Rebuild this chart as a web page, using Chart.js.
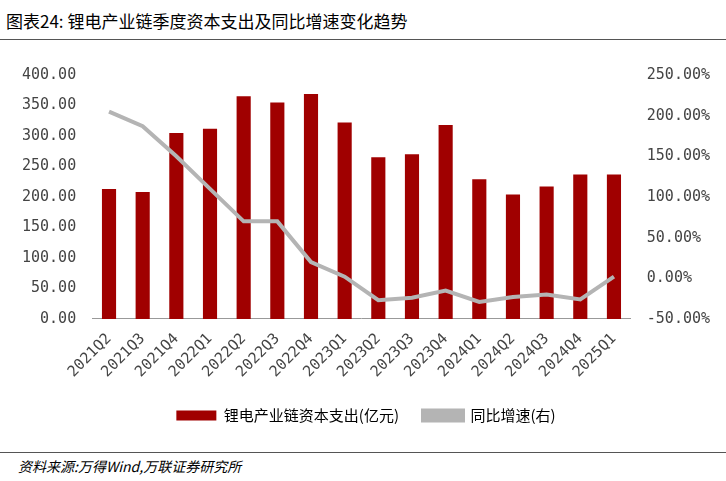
<!DOCTYPE html>
<html><head><meta charset="utf-8">
<script src="https://cdn.jsdelivr.net/npm/chart.js@4/dist/chart.umd.min.js"></script>
<style>
body{margin:0;width:726px;height:481px;background:#fff;font-family:"Noto Sans CJK SC";position:relative;overflow:hidden}
#title{position:absolute;left:6px;top:8px;font-size:17px;color:#000}
#tline{position:absolute;left:0;top:39px;width:726px;border-top:1.5px solid #555}
#bline{position:absolute;left:0;top:452px;width:726px;border-top:1px solid #555}
#src{position:absolute;left:18px;top:456px;font-size:14px;font-style:italic}
#wrap{position:absolute;left:0;top:58px;width:726px;height:375px}
</style></head><body>
<div id="title">图表24:&nbsp;锂电产业链季度资本支出及同比增速变化趋势</div>
<div id="tline"></div>
<div id="wrap"><canvas id="c"></canvas></div>
<div id="bline"></div>
<div id="src">资料来源:万得Wind,万联证券研究所</div>
<script>
const quarters = ["2021Q2","2021Q3","2021Q4","2022Q1","2022Q2","2022Q3","2022Q4","2023Q1","2023Q2","2023Q3","2023Q4","2024Q1","2024Q2","2024Q3","2024Q4","2025Q1"];
const capex = [213,208,305,312,365,355,369,322,265,270,318,229,204,217,237,237];
const yoy = [205,187,150,110,70,70,20,2,-27,-24,-15,-29,-23,-20,-26,2];

const tickFont = {family:"DejaVu Sans Mono", size:15};
new Chart(document.getElementById("c"), {
  data: {
    labels: quarters,
    datasets: [
      {type:"line", label:"同比增速(右)", data:yoy, yAxisID:"y1", borderColor:"#b4b4b4", backgroundColor:"#b4b4b4", borderWidth:4, pointRadius:0, tension:0, order:0},
      {type:"bar", label:"锂电产业链资本支出(亿元)", data:capex, yAxisID:"y", backgroundColor:"#a00000", barPercentage:0.42, categoryPercentage:1, order:1}
    ]
  },
  options: {
    responsive:true, maintainAspectRatio:false, animation:false,
    layout:{padding:{left:14,right:8,top:4}},
    plugins:{
      legend:{position:"bottom", reverse:true, labels:{font:{family:"Noto Sans CJK SC",size:15}, color:"#000", boxWidth:40, boxHeight:10, padding:24}},
      tooltip:{enabled:false}
    },
    scales:{
      x:{grid:{display:false}, border:{color:"#999"}, ticks:{font:tickFont, color:"#444", maxRotation:45, minRotation:45}},
      y:{min:0,max:400, ticks:{stepSize:50, font:tickFont, color:"#444", padding:8, callback:v=>v.toFixed(2)}, grid:{display:false}, border:{display:false}},
      y1:{position:"right", min:-50, max:250, ticks:{stepSize:50, font:tickFont, color:"#444", padding:8, callback:v=>v.toFixed(2)+"%"}, grid:{display:false}, border:{display:false}}
    }
  }
});
</script>
</body></html>
